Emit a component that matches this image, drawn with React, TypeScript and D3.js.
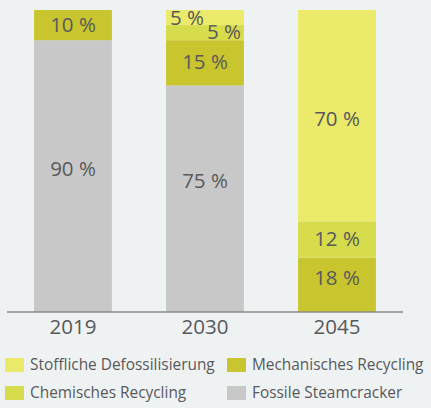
import * as d3 from "d3";

const years = ["2019", "2030", "2045"];
const fossil = [90, 75, 0];
const mechanisch = [10, 15, 18];
const chemisch = [0, 5, 12];
const stofflich = [0, 5, 70];

const seriesNames = [
  "Fossile Steamcracker",
  "Mechanisches Recycling",
  "Chemisches Recycling",
  "Stoffliche Defossilisierung",
];
const seriesColors = ["#c8c8c8", "#c8c52e", "#d6dc4c", "#ebea6a"];

const W = 431;
const H = 408;
const FONT = "'Open Sans', sans-serif";
const TXT = "#58595b";

// hand placement of a few value labels, as in the original layout
const labelNudge: Record<string, [number, number]> = {
  "2019|Fossile Steamcracker": [0, -6],
  "2030|Fossile Steamcracker": [0, -16],
  "2045|Stoffliche Defossilisierung": [0, 4.5],
  "2045|Mechanisches Recycling": [0, -5],
  "2030|Stoffliche Defossilisierung": [-18, 2],
  "2030|Chemisches Recycling": [19, 1],
};

export default function App() {
  const rows = years.map((y, i) => ({
    year: y,
    [seriesNames[0]]: fossil[i],
    [seriesNames[1]]: mechanisch[i],
    [seriesNames[2]]: chemisch[i],
    [seriesNames[3]]: stofflich[i],
  }));
  const stack = d3.stack<any>().keys(seriesNames)(rows);

  const x = d3
    .scaleBand()
    .domain(years)
    .range([7, 403])
    .paddingInner(0.41)
    .paddingOuter(0.205);
  const y = d3.scaleLinear().domain([0, 100]).range([312, 10]);
  const color = d3.scaleOrdinal<string>().domain(seriesNames).range(seriesColors);

  // legend order as in the picture
  const legend = [
    { name: seriesNames[3], col: 0, row: 0 },
    { name: seriesNames[1], col: 1, row: 0 },
    { name: seriesNames[2], col: 0, row: 1 },
    { name: seriesNames[0], col: 1, row: 1 },
  ];

  return (
    <svg
      width={W}
      height={H}
      style={{ position: "absolute", left: 0, top: 0, background: "#eff2f3" }}
      fontFamily={FONT}
    >
      <rect width={W} height={H} fill="#eff2f3" />
      {stack.map((s) =>
        s.map((d, i) => {
          const v = d[1] - d[0];
          if (v <= 0) return null;
          const bx = x(years[i])!;
          const top = y(d[1]);
          const bot = y(d[0]);
          const [dx, dy] = labelNudge[`${years[i]}|${s.key}`] || [0, 1];
          return (
            <g key={s.key + i}>
              <rect x={bx} y={top} width={x.bandwidth()} height={bot - top} fill={color(s.key)} />
              <text
                x={bx + x.bandwidth() / 2 + dx}
                y={(top + bot) / 2 + dy}
                textAnchor="middle"
                dominantBaseline="middle"
                fontSize={20.5}
                fill={TXT}
              >
                {v} %
              </text>
            </g>
          );
        })
      )}
      <line x1={7} x2={403} y1={312} y2={312} stroke="#8a8a8a" strokeWidth={1.5} />
      {years.map((yr) => (
        <text
          key={yr}
          x={x(yr)! + x.bandwidth() / 2}
          y={329}
          textAnchor="middle"
          dominantBaseline="middle"
          fontSize={20.5}
          fill={TXT}
        >
          {yr}
        </text>
      ))}
      {legend.map((l) => {
        const lx = l.col === 0 ? 5 : 227;
        const ly = l.row === 0 ? 358 : 386;
        return (
          <g key={l.name}>
            <rect x={lx} y={ly} width={19} height={14} fill={color(l.name)} />
            <text x={lx + 25} y={ly + 7.5} dominantBaseline="middle" fontSize={15.4} fill={TXT}>
              {l.name}
            </text>
          </g>
        );
      })}
    </svg>
  );
}
